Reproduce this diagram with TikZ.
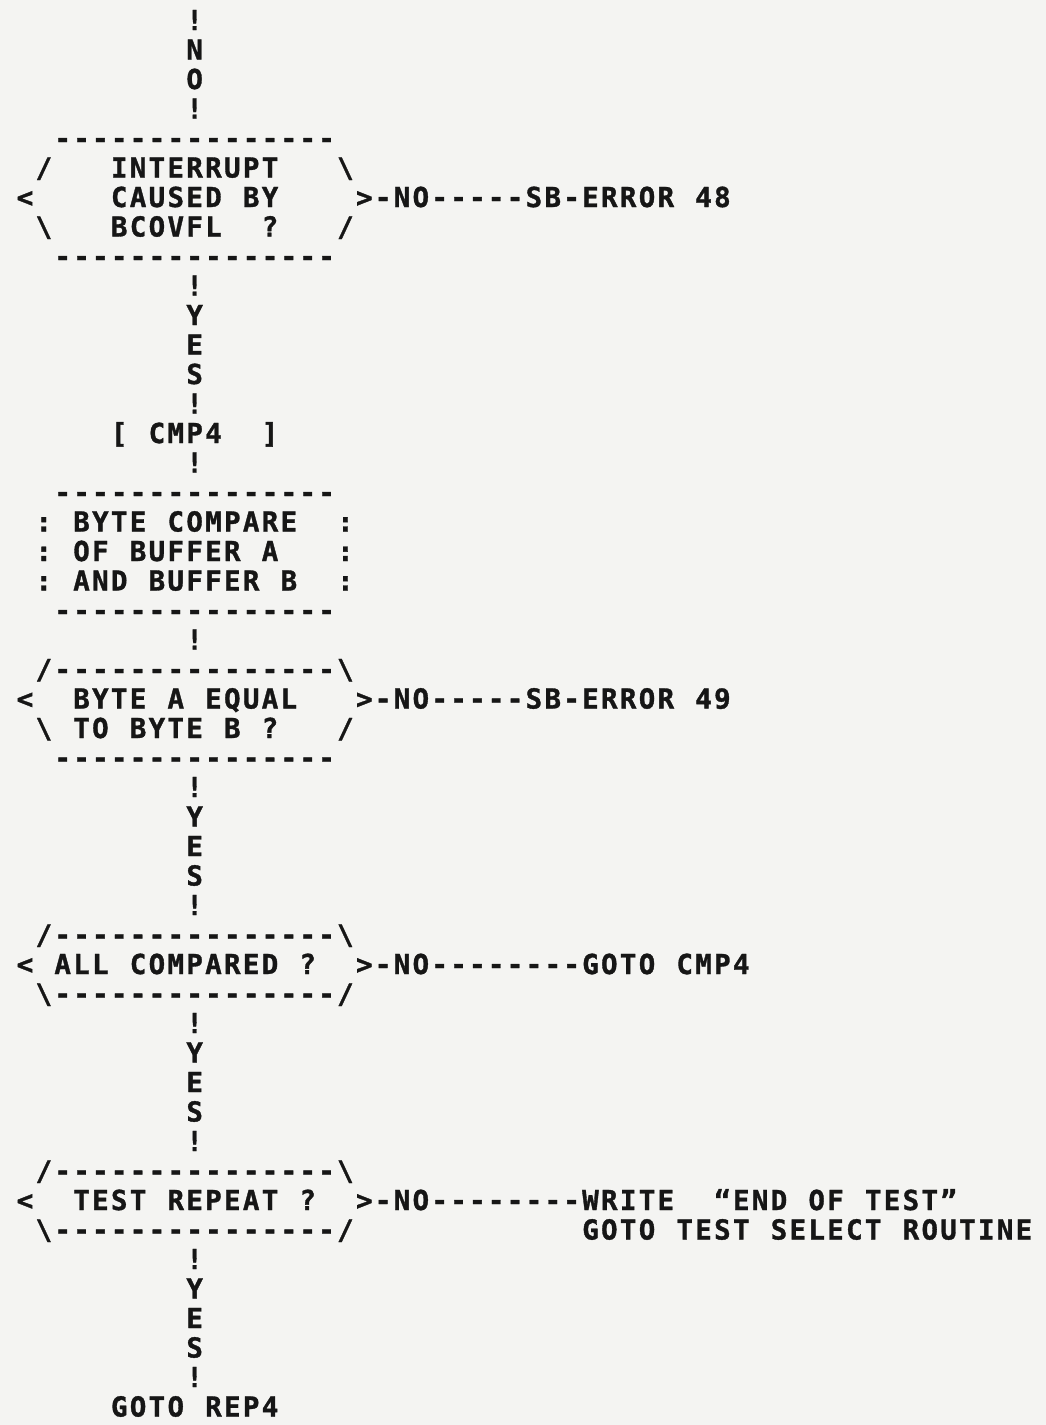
\documentclass[tikz,border=0pt]{standalone}
\usepackage{fontspec}
\newfontfamily\prt{DejaVu Sans Mono Bold}[FakeBold=1.2]
\definecolor{paper}{RGB}{244,244,242}
\definecolor{ink}{RGB}{22,22,22}
\newlength\cellw
\setlength\cellw{18.85pt}
% each character sits in a cell of fixed width, as on the printout
\newcommand\celltext[1]{\celltextA#1\relax}
\newcommand\celltextA[1]{\ifx\relax#1\else\makebox[\cellw][c]{#1}\expandafter\celltextA\fi}
% \Row{name}{row}{column}{text}
\newcommand\Row[4]{\node[txt] (#1) at ({15.575+18.85*(#3)},{30+29.5*(#2)}) {\celltext{#4}};}
% vertical "!YES!" connector
\newcommand\Yes[2]{%
  \Row{#1a}{#2}{9}{!}
  \Row{#1b}{#2+1}{9}{Y}
  \Row{#1c}{#2+2}{9}{E}
  \Row{#1d}{#2+3}{9}{S}
  \Row{#1e}{#2+4}{9}{!}}
\begin{document}
\begin{tikzpicture}[x=1pt,y=-1pt,
  txt/.style={anchor=base west,inner sep=0pt,outer sep=0pt,text=ink,
    font=\prt\fontsize{27.5}{30}\selectfont}]
\fill[paper] (0,0) rectangle (1046,1425);
\useasboundingbox (0,0) rectangle (1046,1425);
% entry "!NO!"
\Row{n0}{0}{9}{!}
\Row{n1}{1}{9}{N}
\Row{n2}{2}{9}{O}
\Row{n3}{3}{9}{!}
% decision 1
\Row{pa}{4}{2}{---------------}
\Row{pb}{5}{1}{/}
\Row{pc}{5}{5}{INTERRUPT}
\Row{pd}{5}{17}{\textbackslash}
\Row{pe}{6}{0}{<}
\Row{pf}{6}{5}{CAUSED~BY}
\Row{pg}{6}{18}{>-NO-----SB-ERROR~48}
\Row{ph}{7}{1}{\textbackslash}
\Row{pi}{7}{5}{BCOVFL}
\Row{pj}{7}{13}{?}
\Row{pk}{7}{17}{/}
\Row{pl}{8}{2}{---------------}
\Yes{ya}{9}
% label
\Row{la}{14}{5}{[~CMP4}
\Row{lb}{14}{13}{]}
\Row{lc}{15}{9}{!}
% process box
\Row{ba}{16}{2}{---------------}
\Row{bb}{17}{1}{:~BYTE~COMPARE}
\Row{bc}{17}{17}{:}
\Row{bd}{18}{1}{:~OF~BUFFER~A}
\Row{be}{18}{17}{:}
\Row{bf}{19}{1}{:~AND~BUFFER~B}
\Row{bg}{19}{17}{:}
\Row{bh}{20}{2}{---------------}
\Row{bi}{21}{9}{!}
% decision 2
\Row{qa}{22}{1}{/---------------\textbackslash}
\Row{qb}{23}{0}{<}
\Row{qc}{23}{3}{BYTE~A~EQUAL}
\Row{qd}{23}{18}{>-NO-----SB-ERROR~49}
\Row{qe}{24}{1}{\textbackslash~TO~BYTE~B~?}
\Row{qf}{24}{17}{/}
\Row{qg}{25}{2}{---------------}
\Yes{yb}{26}
% decision 3
\Row{ra}{31}{1}{/---------------\textbackslash}
\Row{rb}{32}{0}{<~ALL~COMPARED~?}
\Row{rc}{32}{18}{>-NO--------GOTO~CMP4}
\Row{rd}{33}{1}{\textbackslash---------------/}
\Yes{yc}{34}
% decision 4
\Row{sa}{39}{1}{/---------------\textbackslash}
\Row{sb}{40}{0}{<}
\Row{sc}{40}{3}{TEST~REPEAT~?}
\Row{sd}{40}{18}{>-NO--------WRITE}
\Row{se}{40}{37}{“END~OF~TEST”}
\Row{sf}{41}{1}{\textbackslash---------------/}
\Row{sg}{41}{30}{GOTO~TEST~SELECT~ROUTINE}
\Yes{yd}{42}
% exit
\Row{ea}{47}{5}{GOTO}
\Row{eb}{47}{10}{REP4}
\end{tikzpicture}
\end{document}
